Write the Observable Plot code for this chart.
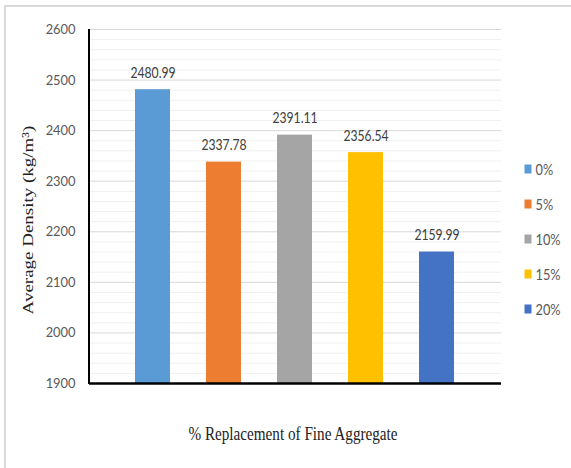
<!DOCTYPE html>
<html>
<head>
<meta charset="utf-8">
<script src="https://cdn.jsdelivr.net/npm/d3@7"></script>
<script src="https://cdn.jsdelivr.net/npm/@observablehq/plot@0.6"></script>
<style>
  html, body { margin: 0; padding: 0; background: #fff; }
  #chart { position: relative; width: 571px; height: 468px; }
</style>
</head>
<body>
<div id="chart"></div>
<script>
// Average density for each fine aggregate replacement level
const categories = ["0%", "5%", "10%", "15%", "20%"];
const densities = [2480.99, 2337.78, 2391.11, 2356.54, 2159.99];
const colors = ["#5B9BD5", "#ED7D31", "#A5A5A5", "#FFC000", "#4472C4"];
const yTicks = [1900, 2000, 2100, 2200, 2300, 2400, 2500, 2600];
const minorTicks = d3.range(1900, 2600, 20).filter(v => v % 100 !== 0);

const xTitle = "% Replacement of Fine Aggregate";
const yTitle = "Average Density (kg/m³)";

const data = categories.map((c, i) => ({ level: c, density: densities[i] }));

const sans = "Lato, 'Open Sans', sans-serif";
const serif = "'Liberation Serif', 'DejaVu Serif', serif";

const plot = Plot.plot({
  width: 571,
  height: 468,
  marginLeft: 89,
  marginRight: 70,
  marginTop: 29,
  marginBottom: 85,
  style: { fontFamily: sans, background: "transparent" },
  x: { domain: categories, paddingInner: 0.507, paddingOuter: 0.648, axis: null },
  y: { domain: [1900, 2600], ticks: yTicks, label: null },
  color: { domain: categories, range: colors },
  marks: [
    Plot.ruleY(minorTicks, { stroke: "#f0f0f0", strokeWidth: 1 }),
    Plot.ruleY(yTicks.slice(1), { stroke: "#d9d9d9", strokeWidth: 1 }),
    Plot.axisY({
      ticks: yTicks,
      tickFormat: "d",
      tickSize: 0,
      tickPadding: 14,
      fontSize: 14,
      fill: "#595959",
      label: null,
      className: "tick-labels"
    }),
    Plot.barY(data, { x: "level", y1: 1900, y2: "density", fill: "level" }),
    Plot.text(data, {
      x: "level",
      y: "density",
      text: d => d.density.toFixed(2),
      lineAnchor: "bottom",
      dy: -12,
      fontSize: 14.5,
      fill: "#404040",
      className: "value-labels"
    }),
    Plot.ruleY([1900], { stroke: "#000", strokeWidth: 2.5 })
  ]
});

const svg = d3.select(plot);

// Narrow the sans labels horizontally around their anchor points
function squish(el, s) {
  const x = +el.getAttribute("x") || 0;
  const y = +el.getAttribute("y") || 0;
  const t = el.getAttribute("transform") || "";
  el.setAttribute("transform", `${t} translate(${x},${y}) scale(${s},1) translate(${-x},${-y})`);
}
svg.selectAll(".tick-labels text").each(function () { squish(this, 0.92); });
svg.selectAll(".value-labels text").each(function () { squish(this, 0.84); });

// left axis line
svg.append("line")
  .attr("x1", 89).attr("x2", 89)
  .attr("y1", 29).attr("y2", 384)
  .attr("stroke", "#000").attr("stroke-width", 2);

// light border along the top and left edges
svg.append("path")
  .attr("d", "M5,468 V6 H571")
  .attr("fill", "none")
  .attr("stroke", "#d9d9d9")
  .attr("stroke-width", 2);

// axis titles
svg.append("text")
  .attr("transform", "translate(293,440) scale(0.8,1)")
  .attr("text-anchor", "middle")
  .attr("font-family", serif)
  .attr("font-size", 19)
  .attr("fill", "#222")
  .text(xTitle);

svg.append("text")
  .attr("transform", "translate(33,220) rotate(-90) scale(1,0.8)")
  .attr("text-anchor", "middle")
  .attr("font-family", serif)
  .attr("font-size", 19)
  .attr("fill", "#222")
  .text(yTitle);

// legend swatches
const color = plot.scale("color");
const legend = svg.append("g")
  .attr("font-family", sans)
  .attr("font-size", 16)
  .attr("fill", "#595959");
const rowY = d3.scalePoint().domain(categories).range([169, 309]);
categories.forEach(c => {
  const y = rowY(c);
  legend.append("rect")
    .attr("x", 524.5).attr("y", y - 4.5)
    .attr("width", 7).attr("height", 9)
    .attr("fill", color.apply(c));
  legend.append("text")
    .attr("transform", `translate(535.5,${y + 6}) scale(0.8,1)`)
    .attr("text-anchor", "start")
    .text(c);
});

document.getElementById("chart").appendChild(plot);
</script>
</body>
</html>
